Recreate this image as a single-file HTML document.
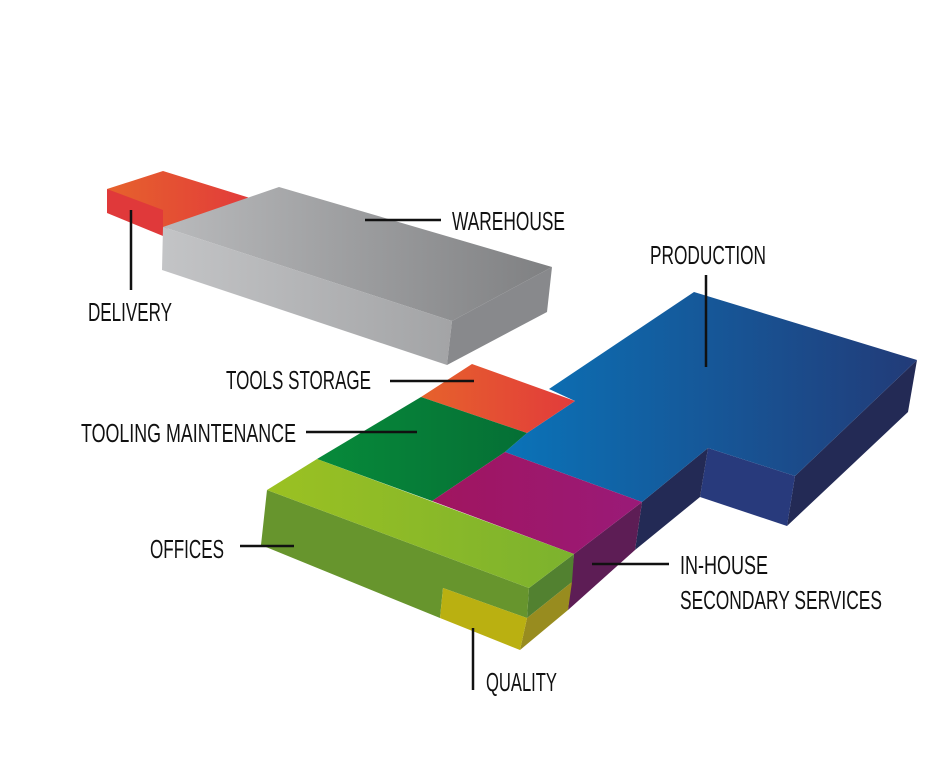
<!DOCTYPE html>
<html><head><meta charset="utf-8"><style>
html,body{margin:0;padding:0;background:#fff;width:944px;height:759px;overflow:hidden}
text{font-family:"Liberation Sans Narrow","Liberation Sans",sans-serif;font-size:26px;fill:#111}
</style></head><body>
<svg width="944" height="759" viewBox="0 0 944 759" xmlns="http://www.w3.org/2000/svg">
<defs>
<linearGradient id="red" x1="0" x2="1" y1="0" y2="0"><stop offset="0" stop-color="#e6622c"/><stop offset="1" stop-color="#e23b3b"/></linearGradient>
<linearGradient id="gtop" x1="0" x2="1"><stop offset="0" stop-color="#b9babc"/><stop offset="1" stop-color="#7f8082"/></linearGradient>
<linearGradient id="gfront" x1="0" x2="1"><stop offset="0" stop-color="#c3c4c6"/><stop offset="1" stop-color="#a3a4a6"/></linearGradient>
<linearGradient id="blue" x1="0" x2="1"><stop offset="0" stop-color="#0a73b8"/><stop offset="1" stop-color="#223b78"/></linearGradient>
<linearGradient id="grn" x1="0" x2="1"><stop offset="0" stop-color="#078a3a"/><stop offset="1" stop-color="#056f35"/></linearGradient>
<linearGradient id="lg" x1="0" x2="1"><stop offset="0" stop-color="#9bc122"/><stop offset="1" stop-color="#7cb22e"/></linearGradient>
<linearGradient id="mag" x1="0" x2="1"><stop offset="0" stop-color="#a0155f"/><stop offset="1" stop-color="#9a1a78"/></linearGradient>
</defs>
<polygon points="107,189 163,171 250,198 163,230" fill="url(#red)"/>
<polygon points="107,189 163,210 163,236 107,213" fill="#e0393a"/>
<polygon points="163,227 279,187 552,267 452,321" fill="url(#gtop)"/>
<polygon points="163,227 452,321 447,365 162,270" fill="url(#gfront)"/>
<polygon points="452,321 552,267 547,312 447,365" fill="#88898c"/>
<polygon points="795,476 917,360 908,412 787,526" fill="#232a55"/>
<polygon points="708,448 795,476 787,526 700,497" fill="#283a7c"/>
<polygon points="642,502 708,448 700,497 635,550" fill="#232a55"/>
<polygon points="574,554 642,502 635,550 568,610" fill="#5d1d55"/>
<polygon points="529,588 574,554 572,582 527,618" fill="#528130"/>
<polygon points="527,618 572,582 568,610 520,650" fill="#988c1f"/>
<polygon points="267,490 529,588 527,618 443,588 440,618 261,545" fill="#67952d"/>
<polygon points="443,588 527,618 520,650 440,618" fill="#bab011"/>
<polygon points="549,389 694,292 917,360 795,476 708,448 642,502 505,452 527,433 575,401" fill="url(#blue)"/>
<polygon points="472,364 575,401 527,433 421,397" fill="url(#red)"/>
<polygon points="421,397 527,433 505,452 432,501 317,459" fill="url(#grn)"/>
<polygon points="505,452 642,502 574,554 432,501" fill="url(#mag)"/>
<polygon points="317,459 574,554 529,588 267,490" fill="url(#lg)"/>
<g stroke="#111" stroke-width="2.5">
<line x1="365" y1="220" x2="441" y2="220"/>
<line x1="131" y1="210" x2="131" y2="290"/>
<line x1="706" y1="275" x2="706" y2="367"/>
<line x1="390" y1="381" x2="474" y2="381"/>
<line x1="306" y1="432" x2="417" y2="432"/>
<line x1="240" y1="546" x2="294" y2="546"/>
<line x1="592" y1="564" x2="669" y2="564"/>
<line x1="473" y1="628" x2="473" y2="690"/>
</g>
<text x="452" y="230" textLength="113" lengthAdjust="spacingAndGlyphs">WAREHOUSE</text>
<text x="88" y="321" textLength="84" lengthAdjust="spacingAndGlyphs">DELIVERY</text>
<text x="650" y="264" textLength="116" lengthAdjust="spacingAndGlyphs">PRODUCTION</text>
<text x="226" y="389" textLength="145" lengthAdjust="spacingAndGlyphs">TOOLS STORAGE</text>
<text x="81" y="442" textLength="215" lengthAdjust="spacingAndGlyphs">TOOLING MAINTENANCE</text>
<text x="150" y="558" textLength="74" lengthAdjust="spacingAndGlyphs">OFFICES</text>
<text x="680" y="574" textLength="88" lengthAdjust="spacingAndGlyphs">IN-HOUSE</text>
<text x="680" y="609" textLength="202" lengthAdjust="spacingAndGlyphs">SECONDARY SERVICES</text>
<text x="486" y="691" textLength="71" lengthAdjust="spacingAndGlyphs">QUALITY</text>
</svg>
</body></html>
